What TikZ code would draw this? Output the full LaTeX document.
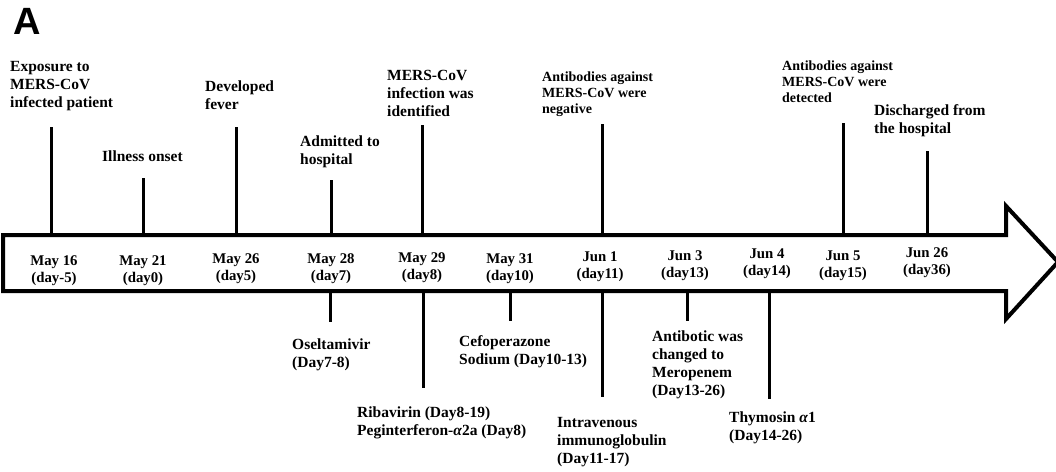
\documentclass[tikz,border=0pt]{standalone}
\usepackage{fontspec}
\setmainfont{Liberation Serif}
\newfontfamily\panelfont{Liberation Sans}
\begin{document}
\begin{tikzpicture}[x=1pt,y=-1pt,
  tick/.style={line width=3pt},
  evt/.style={font=\fontsize{15.5}{18}\selectfont\bfseries, align=left, anchor=north west, inner sep=0pt},
  evtsmall/.style={font=\fontsize{14}{16}\selectfont\bfseries, align=left, anchor=north west, inner sep=0pt},
  datelbl/.style={font=\fontsize{14.8}{17}\selectfont\bfseries, align=center, anchor=north, inner sep=0pt},
  arrowbody/.style={line width=4pt, line join=miter}
]
\useasboundingbox (0,0) rectangle (1056,471);
% panel letter
\node[font=\fontsize{38}{40}\selectfont\panelfont\bfseries, anchor=north west, inner sep=0pt] (panel) at (13,8) {A};
% timeline arrow
\draw[arrowbody] (3,235) -- (1006,235) -- (1006,206) -- (1058,262) -- (1006,319) -- (1006,291) -- (3,291) -- cycle;
% upper ticks
\foreach \n/\x/\t in {u16/51/127, u21/143/178, u26/236/127, u28/331/180, u29/422/125, uj1/602/124, uj5/843/123, uj26/927/151}{
  \coordinate (\n a) at (\x,235);
  \coordinate (\n b) at (\x,\t);
  \draw[tick] (\n a) -- (\n b);
}
% lower ticks
\foreach \n/\x/\b in {l28/330/322, l29/423/388, l31/510/321, lj1/602/397, lj3/687/321, lj4/769/399}{
  \coordinate (\n a) at (\x,291);
  \coordinate (\n b) at (\x,\b);
  \draw[tick] (\n a) -- (\n b);
}
% dates
\node[datelbl] (d16) at (54,255) {May 16\\(day-5)};
\node[datelbl] (d21) at (143,255) {May 21\\(day0)};
\node[datelbl] (d26) at (236,253.5) {May 26\\(day5)};
\node[datelbl] (d28) at (331,253.5) {May 28\\(day7)};
\node[datelbl] (d29) at (422,252) {May 29\\(day8)};
\node[datelbl] (d31) at (510,253.5) {May 31\\(day10)};
\node[datelbl] (dj1) at (600,252) {Jun 1\\(day11)};
\node[datelbl] (dj3) at (685,250.5) {Jun 3\\(day13)};
\node[datelbl] (dj4) at (767,249) {Jun 4\\(day14)};
\node[datelbl] (dj5) at (843,250.5) {Jun 5\\(day15)};
\node[datelbl] (dj26) at (927,247.5) {Jun 26\\(day36)};
% upper events
\node[evt] (e1) at (10,61) {Exposure to\\MERS-CoV\\infected patient};
\node[evt] (e2) at (102,151) {Illness onset};
\node[evt] (e3) at (205,81) {Developed\\fever};
\node[evt] (e4) at (300,136) {Admitted to\\hospital};
\node[evt] (e5) at (387,70) {MERS-CoV\\infection was\\identified};
\node[evtsmall] (e6) at (542,72) {Antibodies against\\MERS-CoV were\\negative};
\node[evtsmall] (e7) at (782,61) {Antibodies against\\MERS-CoV were\\detected};
\node[evt] (e8) at (874,104) {Discharged from\\the hospital};
% lower events
\node[evt] (f1) at (292,339) {Oseltamivir\\(Day7-8)};
\node[evt] (f2) at (459,335) {Cefoperazone\\Sodium (Day10-13)};
\node[evt] (f3) at (357,407) {Ribavirin (Day8-19)\\Peginterferon-\textit{α}2a (Day8)};
\node[evt] (f4) at (557,417) {Intravenous\\immunoglobulin\\(Day11-17)};
\node[evt] (f5) at (652,331) {Antibotic was\\changed to\\Meropenem\\(Day13-26)};
\node[evt] (f6) at (729,412) {Thymosin \textit{α}1\\(Day14-26)};
\end{tikzpicture}
\end{document}
